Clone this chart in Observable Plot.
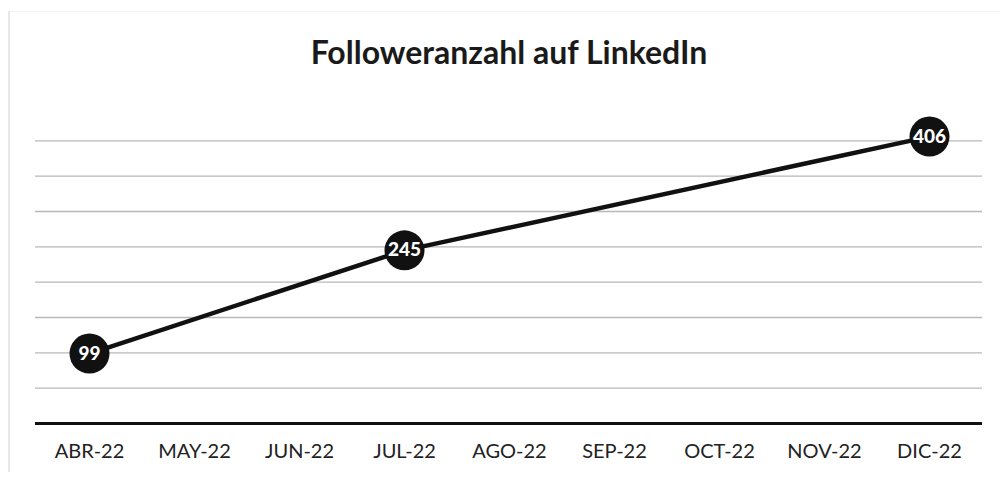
<!DOCTYPE html>
<html>
<head>
<meta charset="utf-8">
<script src="https://cdn.jsdelivr.net/npm/d3@7"></script>
<script src="https://cdn.jsdelivr.net/npm/@observablehq/plot@0.6"></script>
<style>
  html, body { margin: 0; padding: 0; background: #fff; }
  #wrap { position: relative; width: 1000px; height: 477px; overflow: hidden; }
  #frame { position: absolute; left: 8px; top: 11px; width: 1100px; height: 460px;
           border-left: 2px solid #e8e8e8; border-top: 1px solid #f3f3f3; }
  #title { position: absolute; left: 18px; top: 36px; width: 982px; text-align: center;
           font-family: Lato, "Open Sans", sans-serif; font-weight: 700; font-size: 32px;
           color: #1a1a1a; line-height: 1; }
  #chart { position: absolute; left: 0; top: 85px; }
</style>
</head>
<body>
<div id="wrap">
  <div id="frame"></div>
  <div id="title">Followeranzahl auf LinkedIn</div>
  <div id="chart"></div>
</div>
<script>
const months = ["ABR-22","MAY-22","JUN-22","JUL-22","AGO-22","SEP-22","OCT-22","NOV-22","DIC-22"];
const pointMonths = ["ABR-22","JUL-22","DIC-22"];
const followers = [99, 245, 406];
const gridValues = [50, 100, 150, 200, 250, 300, 350, 400];

const data = pointMonths.map((m, i) => ({month: m, value: followers[i]}));

const chart = Plot.plot({
  width: 1000,
  height: 392,
  marginLeft: 35,
  marginRight: 18,
  marginTop: 20,
  marginBottom: 54,
  style: {fontFamily: "Lato, 'Open Sans', sans-serif", background: "transparent"},
  x: {type: "point", domain: months, padding: 0.5, label: null},
  y: {domain: [0, 450], axis: null},
  marks: [
    Plot.ruleY(gridValues, {stroke: "#b8b8b8", strokeWidth: 1.3}),
    Plot.ruleY([0], {stroke: "#111", strokeWidth: 3}),
    Plot.axisX({tickSize: 0, tickPadding: 20, fontSize: 20, fill: "#222", label: null}),
    Plot.line(data, {x: "month", y: "value", stroke: "#111", strokeWidth: 4.5}),
    Plot.dot(data, {x: "month", y: "value", r: 20, fill: "#111", stroke: "none"}),
    Plot.text(data, {x: "month", y: "value", text: d => String(d.value), fill: "#fff",
      fontSize: 19, fontWeight: 900})
  ]
});
document.getElementById("chart").appendChild(chart);
</script>
</body>
</html>
